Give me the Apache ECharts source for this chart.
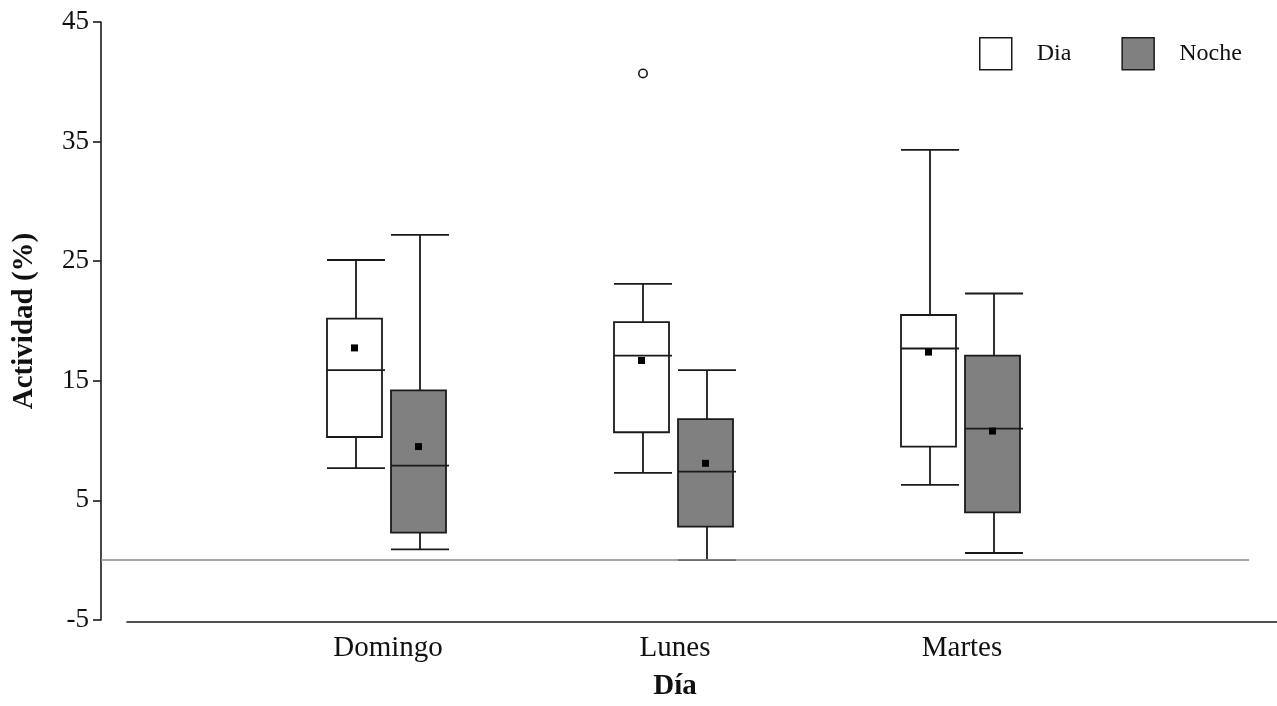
<!DOCTYPE html>
<html>
<head>
<meta charset="utf-8">
<script src="https://cdn.jsdelivr.net/npm/echarts@6/dist/echarts.min.js"></script>
<style>html,body{margin:0;padding:0;background:#fff;}#c{width:1277px;height:706px;}</style>
</head>
<body>
<div id="c"></div>
<script>
// ---- data ----
const categories = ['Domingo', 'Lunes', 'Martes'];
const seriesNames = ['Dia', 'Noche'];
const diaLow  = [7.7, 7.3, 6.3];
const diaQ1   = [10.3, 10.7, 9.5];
const diaMed  = [15.9, 17.1, 17.7];
const diaQ3   = [20.2, 19.9, 20.5];
const diaHigh = [25.1, 23.1, 34.3];
const diaMean = [17.75, 16.7, 17.4];
const diaOutliers = [[], [40.7], []];
const nocheLow  = [0.9, 0.0, 0.6];
const nocheQ1   = [2.3, 2.8, 4.0];
const nocheMed  = [7.9, 7.4, 11.0];
const nocheQ3   = [14.2, 11.8, 17.1];
const nocheHigh = [27.2, 15.9, 22.3];
const nocheMean = [9.5, 8.1, 10.8];
const nocheOutliers = [[], [], []];

const FONT = '"Liberation Serif", "Times New Roman", serif';
const INK = '#1a1a1a';

function build(low, q1, med, q3, high, mean) {
  return categories.map((c, i) => [i + 1, low[i], q1[i], med[i], q3[i], high[i], mean[i]]);
}

function makeRender(offset, fill, outliers) {
  return function (params, api) {
    const i = api.value(0);
    const cx = api.coord([i, 0])[0] + offset;
    const y = v => api.coord([i, v])[1];
    const yLow = y(api.value(1)), yQ1 = y(api.value(2)), yMed = y(api.value(3));
    const yQ3 = y(api.value(4)), yHigh = y(api.value(5)), yMean = y(api.value(6));
    const ls = { stroke: INK, lineWidth: 1.8 };
    const L = 29, R = 29, BR = 26;
    const children = [
      { type: 'line', shape: { x1: cx, y1: yHigh, x2: cx, y2: yQ3 }, style: ls },
      { type: 'line', shape: { x1: cx, y1: yQ1, x2: cx, y2: yLow }, style: ls },
      { type: 'line', shape: { x1: cx - L, y1: yHigh, x2: cx + R, y2: yHigh }, style: ls },
      { type: 'line', shape: { x1: cx - L, y1: yLow, x2: cx + R, y2: yLow }, style: ls },
      { type: 'rect', shape: { x: cx - L, y: yQ3, width: L + BR, height: yQ1 - yQ3 },
        style: { fill: fill, stroke: INK, lineWidth: 1.8 } },
      { type: 'line', shape: { x1: cx - L, y1: yMed, x2: cx + R, y2: yMed }, style: ls },
      { type: 'rect', shape: { x: cx - 1.5 - 3.5, y: yMean - 3.5, width: 7, height: 7 },
        style: { fill: '#000' } }
    ];
    (outliers[params.dataIndex] || []).forEach(v => {
      children.push({ type: 'circle', shape: { cx: cx, cy: y(v), r: 4.2 },
        style: { fill: '#fff', stroke: INK, lineWidth: 1.6 } });
    });
    return { type: 'group', children: children };
  };
}

const chart = echarts.init(document.getElementById('c'), null, { renderer: 'canvas' });
chart.setOption({
  animation: false,
  backgroundColor: '#fff',
  grid: [
    { left: 101, right: 28, top: 22, bottom: 84 },
    { left: 127, right: 0, top: 22, bottom: 84 }
  ],
  legend: {
    left: 974, top: 32,
    itemWidth: 32, itemHeight: 32, itemGap: 50,
    textStyle: { fontFamily: FONT, fontSize: 24, color: '#111', padding: [0, 0, 0, 20] },
    data: [
      { name: 'Dia', icon: 'rect', itemStyle: { color: '#ffffff', borderColor: INK, borderWidth: 1.5 } },
      { name: 'Noche', icon: 'rect', itemStyle: { color: '#808080', borderColor: INK, borderWidth: 1.5 } }
    ]
  },
  xAxis: [
    {
      gridIndex: 0, type: 'value', min: 0, max: 4, interval: 1,
      name: 'Día', nameLocation: 'middle', nameGap: 52,
      nameTextStyle: { fontFamily: FONT, fontSize: 29, fontWeight: 'bold', color: '#111' },
      axisLine: { show: false }, axisTick: { show: false }, splitLine: { show: false },
      axisLabel: {
        fontFamily: FONT, fontSize: 29, color: '#111', margin: 14,
        formatter: v => (v >= 1 && v <= categories.length) ? categories[v - 1] : ''
      }
    },
    {
      gridIndex: 1, type: 'value', min: 0, max: 1,
      axisLine: { show: true, lineStyle: { color: INK, width: 1.6 } },
      axisTick: { show: false }, axisLabel: { show: false }, splitLine: { show: false }
    }
  ],
  yAxis: [
    {
      gridIndex: 0, type: 'value', min: -5, max: 45, interval: 10,
      name: 'Actividad (%)', nameLocation: 'middle', nameGap: 62, nameRotate: 90,
      nameTextStyle: { fontFamily: FONT, fontSize: 29, fontWeight: 'bold', color: '#111' },
      axisLine: { show: true, lineStyle: { color: INK, width: 1.6 } },
      axisTick: { show: true, length: 8, inside: false, lineStyle: { color: INK, width: 1.6 } },
      axisLabel: { fontFamily: FONT, fontSize: 27, color: '#111', margin: 12 },
      splitLine: { show: false }
    },
    { gridIndex: 1, type: 'value', show: false, min: 0, max: 1 }
  ],
  series: [
    {
      name: 'Dia', type: 'custom', xAxisIndex: 0, yAxisIndex: 0,
      itemStyle: { color: '#ffffff', borderColor: INK },
      encode: { x: 0, y: [1, 2, 3, 4, 5, 6] },
      renderItem: makeRender(-32, '#ffffff', diaOutliers),
      data: build(diaLow, diaQ1, diaMed, diaQ3, diaHigh, diaMean),
      markLine: {
        silent: true, symbol: 'none', label: { show: false },
        lineStyle: { color: '#8a8a8a', width: 1.6, type: 'solid' },
        data: [{ yAxis: 0 }]
      },
      z: 3
    },
    {
      name: 'Noche', type: 'custom', xAxisIndex: 0, yAxisIndex: 0,
      itemStyle: { color: '#808080', borderColor: INK },
      encode: { x: 0, y: [1, 2, 3, 4, 5, 6] },
      renderItem: makeRender(32, '#808080', nocheOutliers),
      data: build(nocheLow, nocheQ1, nocheMed, nocheQ3, nocheHigh, nocheMean),
      z: 3
    }
  ]
});
</script>
</body>
</html>
